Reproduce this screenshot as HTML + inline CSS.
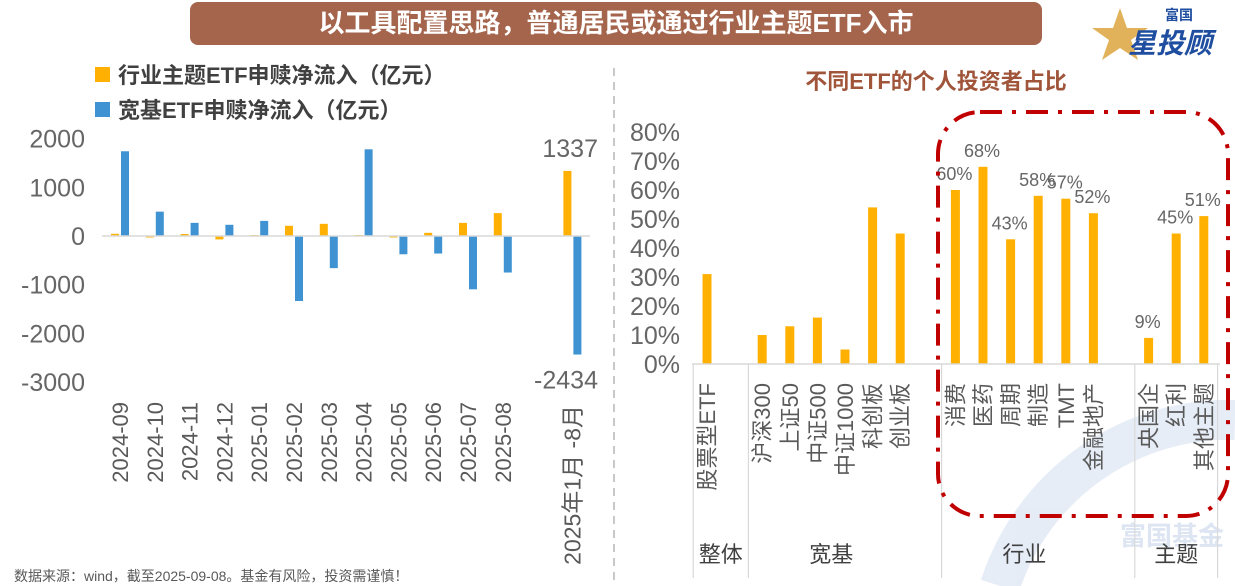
<!DOCTYPE html>
<html><head><meta charset="utf-8">
<style>
html,body{margin:0;padding:0;background:#fff;width:1235px;height:586px;overflow:hidden;}
body{position:relative;font-family:"Liberation Sans","Noto Sans CJK SC",sans-serif;}
svg{position:absolute;left:0;top:0;display:block;}
</style></head>
<body>
<svg width="1235" height="586" viewBox="0 0 1235 586" overflow="hidden" xmlns="http://www.w3.org/2000/svg" font-family="Liberation Sans, Noto Sans CJK SC, sans-serif">
  <defs><clipPath id="frame"><rect x="0" y="0" width="1235" height="586"/></clipPath></defs>
  <g opacity="0.35" clip-path="url(#frame)">
    <path d="M1000,586 A240,240 0 0 1 1235,420" fill="none" stroke="#b9cbe6" stroke-width="40"/>
    <text x="1120" y="545" font-size="26" font-weight="bold" fill="#9db6da">富国基金</text>
  </g>
  <g>
    <rect x="190" y="2" width="852" height="43" rx="8" fill="#a5654d"/>
    <text x="616" y="32" text-anchor="middle" font-size="26" font-weight="bold" fill="#fff">以工具配置思路，普通居民或通过行业主题ETF入市</text>
  </g>
  <g>
    <polygon points="1120,8 1127,28 1148,28 1131,40 1138,60 1120,48 1102,60 1109,40 1092,28 1113,28" fill="#e2b25a"/>
    <text x="1165" y="20" font-size="14" font-weight="bold" fill="#1f4ea0">富国</text>
    <text x="1128" y="53" font-size="28" font-weight="bold" font-style="italic" fill="#1f4ea0">星投顾</text>
  </g>
  <line x1="614" y1="68" x2="614" y2="580" stroke="#c8c8c8" stroke-width="2" stroke-dasharray="8 6"/>

  <g id="left" clip-path="url(#frame)"></g>
  <g id="right" clip-path="url(#frame)"></g>

  <text x="14" y="581" font-size="14" fill="#595959">数据来源：wind，截至2025-09-08。基金有风险，投资需谨慎！</text>
</svg>
<script>
const flowCats = ["2024-09","2024-10","2024-11","2024-12","2025-01","2025-02","2025-03","2025-04","2025-05","2025-06","2025-07","2025-08","","2025年1月 -8月"];
const industryFlow = [45,-30,40,-70,20,210,250,20,-30,65,270,470,null,1337];
const broadFlow = [1740,500,270,230,310,-1335,-660,1780,-375,-360,-1095,-750,null,-2434];
const flowTicks = [2000,1000,0,-1000,-2000,-3000];

const shareCats = ["股票型ETF","","沪深300","上证50","中证500","中证1000","科创板","创业板","","消费","医药","周期","制造","TMT","金融地产","","央国企","红利","其他主题"];
const shareVals = [31,null,10,13,16,5,54,45,null,60,68,43,58,57,52,null,9,45,51];
const shareLabeled = [false,false,false,false,false,false,false,false,false,true,true,true,true,true,true,false,true,true,true];
const shareTicks = [0,10,20,30,40,50,60,70,80];
const groups = ["整体","宽基","行业","主题"];
const groupSpans = [[0,0],[2,7],[9,14],[16,18]];

const NS="http://www.w3.org/2000/svg";
function mk(parent,tag,attrs,text){const e=document.createElementNS(NS,tag);for(const k in attrs)e.setAttribute(k,attrs[k]);if(text!==undefined)e.textContent=text;parent.appendChild(e);return e;}

// LEFT
const L=document.getElementById('left');
const ly=v=>236-v*0.0487;
const lx=i=>120+i*34.8;
const legData=[["行业主题ETF申赎净流入（亿元）","#ffb000",75],["宽基ETF申赎净流入（亿元）","#3f93d3",110]];
legData.forEach(d=>{
  const g=mk(L,'g',{});
  
  
  mk(g,'rect',{x:95,y:d[2]-8,width:15,height:15,fill:d[1]});
  mk(g,'text',{x:118,y:d[2]+8,'font-size':22,'font-weight':'bold',fill:'#404040'},d[0]);
});
flowTicks.forEach(t=>{
  const e=mk(L,'text',{x:85,y:ly(t)+9,'text-anchor':'end','font-size':25,fill:'#666'},String(t));
  
  
});
industryFlow.forEach((v,i)=>{
  if(v===null)return;
  const r=mk(L,'rect',{x:lx(i)-9,y:Math.min(ly(v),ly(0)),width:8,height:Math.abs(ly(v)-ly(0)),fill:'#ffb000'});
  
  
});
broadFlow.forEach((v,i)=>{
  if(v===null)return;
  const r=mk(L,'rect',{x:lx(i)+1,y:Math.min(ly(v),ly(0)),width:8,height:Math.abs(ly(v)-ly(0)),fill:'#3f93d3'});
  
  
});
mk(L,'line',{x1:102,y1:ly(0),x2:590,y2:ly(0),stroke:'#d9d9d9','stroke-width':1.5});
const last=flowCats.length-1;
const v1=mk(L,'text',{x:598,y:ly(industryFlow[last])-14,'text-anchor':'end','font-size':25,fill:'#666'},String(industryFlow[last]));


const v2=mk(L,'text',{x:598,y:ly(broadFlow[last])+34,'text-anchor':'end','font-size':25,fill:'#666'},String(broadFlow[last]));


flowCats.forEach((c,i)=>{
  if(!c)return;
  const isLast = i===last;
  const e=mk(L,'text',{x:0,y:0,transform:`translate(${lx(i)+8},${isLast?405:402}) rotate(-90)`,'text-anchor':'end','font-size':isLast?23:22,fill:'#595959'},c);
  
  
});

// RIGHT
const R=document.getElementById('right');
const t2=mk(R,'text',{x:936,y:89,'text-anchor':'middle','font-size':22,'font-weight':'bold',fill:'#a0553a'},"不同ETF的个人投资者占比");


const ry=v=>364-v*2.9;
const rx=i=>707+i*27.6;
shareTicks.forEach(t=>{
  const e=mk(R,'text',{x:680,y:ry(t)+9,'text-anchor':'end','font-size':25,fill:'#666'},t+"%");
  
  
});
shareVals.forEach((v,i)=>{
  if(v===null)return;
  const r=mk(R,'rect',{x:rx(i)-4.5,y:ry(v),width:9,height:ry(0)-ry(v),fill:'#ffb000'});
  
  
  if(shareLabeled[i]){
    const l=mk(R,'text',{x:rx(i)-1,y:ry(v)-10,'text-anchor':'middle','font-size':18,fill:'#666'},v+"%");
    
    
  }
});
mk(R,'line',{x1:692,y1:364,x2:1220,y2:364,stroke:'#d9d9d9','stroke-width':1.5});
const seps=[rx(0)-13.8,(rx(1)+rx(2))/2,(rx(8)+rx(9))/2,(rx(15)+rx(16))/2,rx(18)+13.8];
seps.forEach(x=>mk(R,'line',{x1:x,y1:364,x2:x,y2:578,stroke:'#d9d9d9','stroke-width':1.2}));
shareCats.forEach((c,i)=>{
  if(!c)return;
  const e=mk(R,'text',{x:0,y:0,transform:`translate(${rx(i)+8},383) rotate(-90)`,'text-anchor':'end','font-size':22,fill:'#595959'},c);
  
  
});
groups.forEach((g,k)=>{
  const a=groupSpans[k];
  const cx=k===0?(seps[0]+seps[1])/2:(rx(a[0])+rx(a[1]))/2;
  const e=mk(R,'text',{x:cx,y:562,'text-anchor':'middle','font-size':22,fill:'#404040'},g);
  
  
});
const hl=mk(R,'rect',{x:938,y:112,width:290,height:404,rx:42,fill:'none',stroke:'#c00000','stroke-width':4,'stroke-dasharray':'22 10 4 10'});


</script>
</body></html>
